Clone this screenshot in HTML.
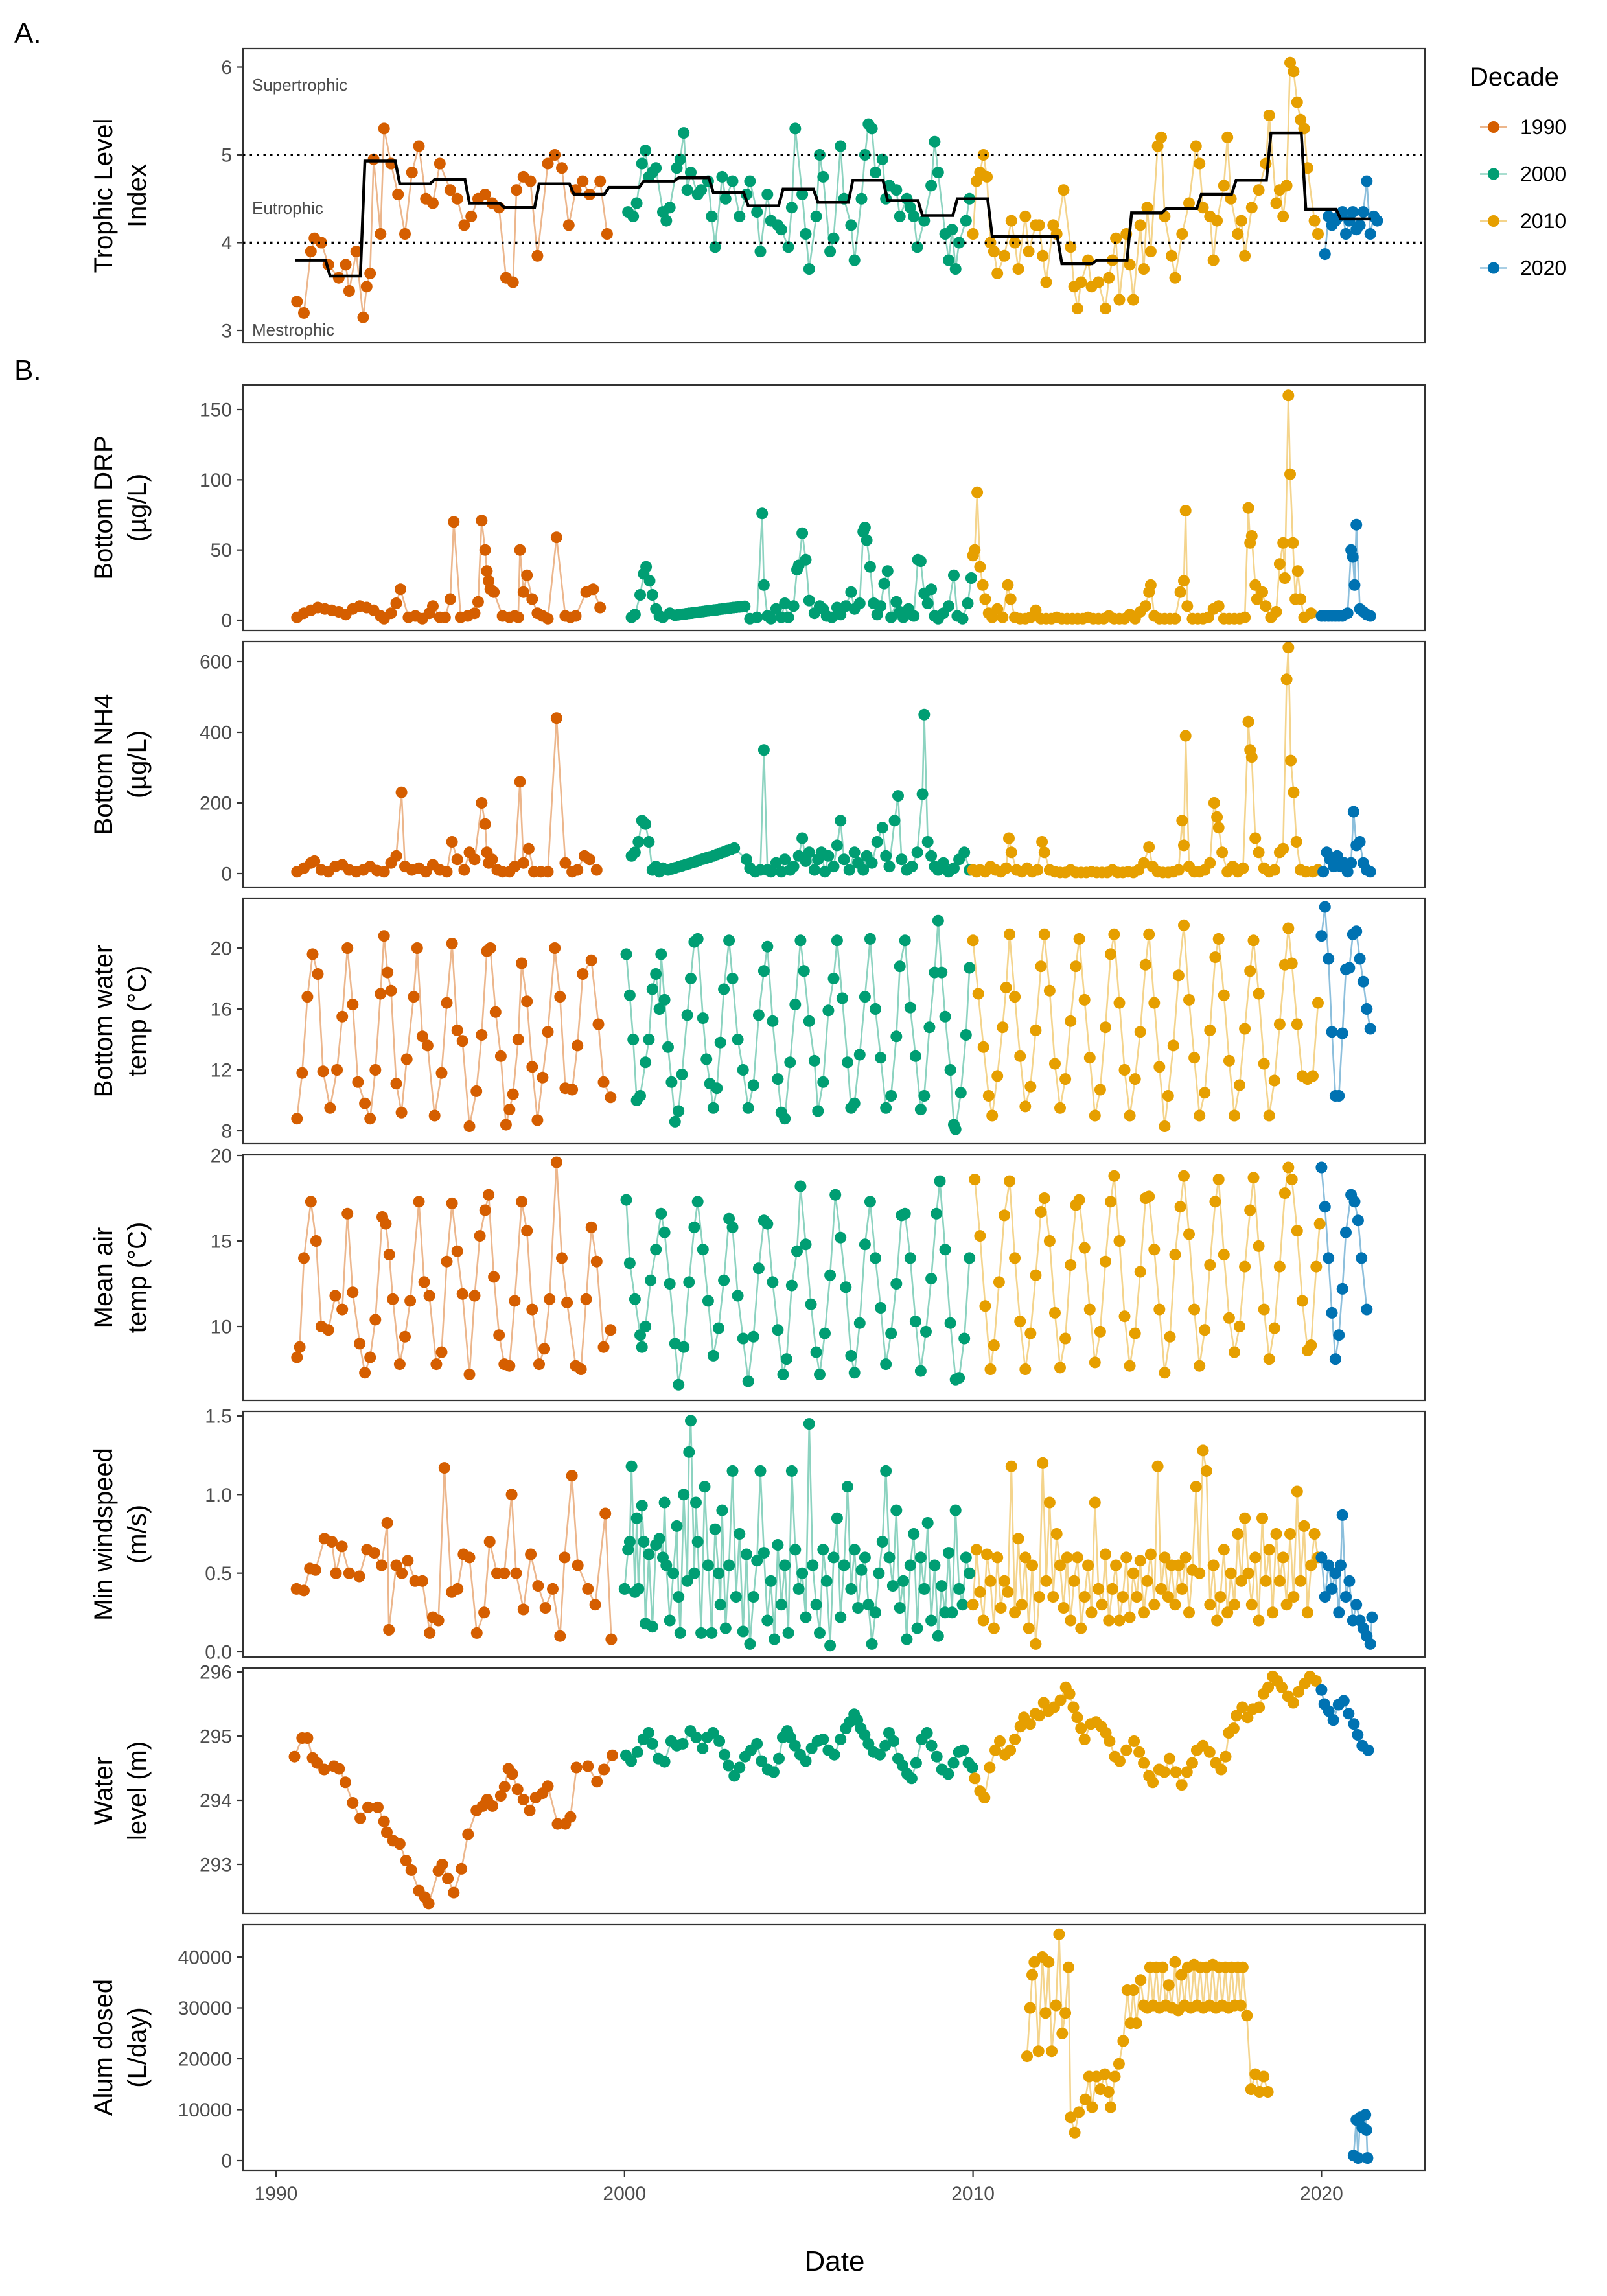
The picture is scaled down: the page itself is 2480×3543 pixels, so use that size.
<!DOCTYPE html>
<html><head><meta charset="utf-8"><style>
html,body{margin:0;padding:0;background:#fff;}
svg{display:block;font-family:"Liberation Sans",Arial,sans-serif;}
</style></head><body>
<svg id="fig" width="2480" height="3543" viewBox="0 0 2480 3543" xmlns="http://www.w3.org/2000/svg">
<rect width="2480" height="3543" fill="#fff"/>
<text x="22" y="66" font-size="44" fill="#000">A.</text>
<text x="22" y="586" font-size="44" fill="#000">B.</text>
<text x="1288" y="3504" font-size="44" text-anchor="middle" fill="#000">Date</text>
<g id="legend">
<text x="2268" y="132" font-size="40" fill="#000">Decade</text>
</g>
</svg>
<script>
const decadeLabels = ["1990","2000","2010","2020"];
const decadeColors = ["#D55E00","#009E73","#E69F00","#0072B2"];
const xTickLabels = [1990,2000,2010,2020];

const tliObs = [[1990.6,3.33],[1990.8,3.2],[1991.0,3.9],[1991.1,4.05],[1991.3,4.0],[1991.5,3.75],[1991.8,3.6],[1992.0,3.75],[1992.1,3.45],[1992.3,3.9],[1992.5,3.15],[1992.6,3.5],[1992.7,3.65],[1992.8,4.95],[1993.0,4.1],[1993.1,5.3],[1993.3,4.9],[1993.5,4.55],[1993.7,4.1],[1993.9,4.8],[1994.1,5.1],[1994.3,4.5],[1994.5,4.45],[1994.7,4.9],[1995.0,4.6],[1995.2,4.5],[1995.4,4.2],[1995.6,4.3],[1995.8,4.5],[1996.0,4.55],[1996.2,4.45],[1996.4,4.4],[1996.6,3.6],[1996.8,3.55],[1996.9,4.6],[1997.1,4.75],[1997.3,4.7],[1997.5,3.85],[1997.8,4.9],[1998.0,5.0],[1998.2,4.85],[1998.4,4.2],[1998.6,4.6],[1998.8,4.7],[1999.0,4.55],[1999.3,4.7],[1999.5,4.1],
[2000.1,4.35],[2000.25,4.3],[2000.35,4.45],[2000.5,4.9],[2000.6,5.05],[2000.7,4.75],[2000.8,4.8],[2000.9,4.85],[2001.1,4.35],[2001.2,4.25],[2001.3,4.4],[2001.5,4.85],[2001.6,4.95],[2001.7,5.25],[2001.8,4.6],[2001.9,4.8],[2002.1,4.55],[2002.2,4.6],[2002.4,4.7],[2002.5,4.3],[2002.6,3.95],[2002.8,4.75],[2002.9,4.5],[2003.1,4.7],[2003.3,4.3],[2003.5,4.55],[2003.6,4.7],[2003.8,4.35],[2003.9,3.9],[2004.1,4.55],[2004.2,4.25],[2004.4,4.2],[2004.5,4.15],[2004.7,3.95],[2004.8,4.4],[2004.9,5.3],[2005.1,4.55],[2005.2,4.1],[2005.3,3.7],[2005.5,4.3],[2005.6,5.0],[2005.7,4.75],[2005.9,3.9],[2006.0,4.05],[2006.2,5.1],[2006.3,4.5],[2006.5,4.2],[2006.6,3.8],[2006.8,4.5],[2006.9,5.0],[2007.0,5.35],[2007.1,5.3],[2007.2,4.8],[2007.4,4.95],[2007.5,4.5],[2007.6,4.65],[2007.8,4.6],[2007.9,4.3],[2008.1,4.5],[2008.2,4.4],[2008.3,4.3],[2008.4,3.95],[2008.6,4.25],[2008.8,4.65],[2008.9,5.15],[2009.0,4.8],[2009.2,4.1],[2009.3,3.8],[2009.4,4.15],[2009.5,3.7],[2009.6,4.0],[2009.8,4.25],[2009.9,4.5],
[2010.0,4.1],[2010.1,4.7],[2010.2,4.8],[2010.3,5.0],[2010.4,4.75],[2010.5,4.0],[2010.6,3.9],[2010.7,3.65],[2010.9,3.85],[2011.1,4.25],[2011.2,4.0],[2011.3,3.7],[2011.5,4.3],[2011.6,3.9],[2011.8,4.2],[2011.9,4.2],[2012.0,3.85],[2012.1,3.55],[2012.3,4.2],[2012.4,4.1],[2012.6,4.6],[2012.8,3.95],[2012.9,3.5],[2013.0,3.25],[2013.1,3.55],[2013.3,3.8],[2013.4,3.5],[2013.6,3.55],[2013.8,3.25],[2013.9,3.6],[2014.0,3.8],[2014.1,4.05],[2014.2,3.35],[2014.4,4.1],[2014.5,3.75],[2014.6,3.35],[2014.8,4.2],[2014.9,3.7],[2015.0,4.4],[2015.1,3.9],[2015.3,5.1],[2015.4,5.2],[2015.5,4.3],[2015.7,3.85],[2015.8,3.6],[2016.0,4.1],[2016.2,4.45],[2016.4,5.1],[2016.5,4.9],[2016.6,4.4],[2016.8,4.3],[2016.9,3.8],[2017.0,4.25],[2017.2,4.65],[2017.3,5.2],[2017.4,4.5],[2017.6,4.1],[2017.7,4.25],[2017.8,3.85],[2018.0,4.4],[2018.2,4.6],[2018.4,4.9],[2018.5,5.45],[2018.7,4.45],[2018.8,4.6],[2018.9,4.3],[2019.0,4.65],[2019.1,6.05],[2019.2,5.95],[2019.3,5.6],[2019.4,5.4],[2019.5,5.3],[2019.6,4.85],[2019.8,4.25],[2019.9,4.1],
[2020.1,3.87],[2020.2,4.3],[2020.3,4.2],[2020.4,4.25],[2020.5,4.3],[2020.6,4.35],[2020.7,4.1],[2020.8,4.25],[2020.9,4.35],[2021.0,4.15],[2021.1,4.2],[2021.2,4.35],[2021.3,4.7],[2021.4,4.1],[2021.5,4.3],[2021.6,4.25]];

const tliYears = [1990,1991,1992,1993,1994,1995,1996,1997,1998,1999,2000,2001,2002,2003,2004,2005,2006,2007,2008,2009,2010,2011,2012,2013,2014,2015,2016,2017,2018,2019,2020];
const tliAnnual = [3.80,3.62,4.93,4.67,4.72,4.45,4.40,4.67,4.55,4.63,4.70,4.74,4.57,4.42,4.61,4.46,4.71,4.48,4.31,4.50,4.07,4.07,3.76,3.80,4.34,4.39,4.55,4.71,5.25,4.38,4.27];

const drpObs = [[1990.6,2],[1990.8,5],[1991.0,7],[1991.2,9],[1991.4,8],[1991.6,7],[1991.8,6],[1992.0,4],[1992.2,8],[1992.4,10],[1992.6,9],[1992.8,7],[1993.0,3],[1993.1,1],[1993.3,5],[1993.45,12],[1993.57,22],[1993.8,2],[1994.0,3],[1994.2,1],[1994.4,5],[1994.5,10],[1994.7,2],[1994.85,2],[1995.0,15],[1995.1,70],[1995.3,2],[1995.5,3],[1995.7,5],[1995.8,13],[1995.9,71],[1996.0,50],[1996.05,35],[1996.1,28],[1996.15,22],[1996.25,20],[1996.5,3],[1996.7,2],[1996.85,3],[1996.95,2],[1997.0,50],[1997.1,20],[1997.2,32],[1997.35,15],[1997.5,5],[1997.65,3],[1997.8,1],[1998.05,59],[1998.3,3],[1998.45,2],[1998.6,3],[1998.9,20],[1999.1,22],[1999.3,9],
[2000.2,2],[2000.3,4],[2000.45,18],[2000.55,33],[2000.62,38],[2000.72,28],[2000.8,18],[2000.9,8],[2001.0,3],[2001.1,2],[2001.3,5],[2001.45,3.5],[2001.53,3.8],[2001.61,4.1],[2001.69,4.3],[2001.77,4.6],[2001.85,4.9],[2001.93,5.1],[2002.01,5.4],[2002.09,5.6],[2002.17,5.9],[2002.25,6.1],[2002.33,6.4],[2002.41,6.7],[2002.49,6.9],[2002.57,7.2],[2002.65,7.4],[2002.73,7.7],[2002.81,8.0],[2002.89,8.2],[2002.97,8.5],[2003.05,8.7],[2003.13,9.0],[2003.21,9.2],[2003.29,9.4],[2003.37,9.6],[2003.45,9.8],
[2003.6,1],[2003.8,2],[2003.95,76],[2004.0,25],[2004.1,3],[2004.2,1],[2004.35,8],[2004.5,2],[2004.6,12],[2004.7,2],[2004.85,10],[2004.95,36],[2005.0,39],[2005.1,62],[2005.2,43],[2005.3,14],[2005.45,5],[2005.6,10],[2005.7,8],[2005.8,3],[2005.95,2],[2006.1,9],[2006.2,4],[2006.35,10],[2006.5,20],[2006.6,8],[2006.75,12],[2006.85,63],[2006.9,66],[2006.95,57],[2007.05,38],[2007.15,12],[2007.25,4],[2007.35,10],[2007.45,26],[2007.55,35],[2007.65,2],[2007.8,13],[2007.9,6],[2008.0,2],[2008.15,8],[2008.3,3],[2008.42,43],[2008.5,42],[2008.6,19],[2008.7,12],[2008.8,22],[2008.9,3],[2009.0,1],[2009.15,5],[2009.3,10],[2009.45,32],[2009.55,3],[2009.7,1],[2009.85,12],[2009.95,30],
[2010.0,46],[2010.05,50],[2010.12,91],[2010.2,38],[2010.28,25],[2010.35,15],[2010.45,5],[2010.55,2],[2010.7,8],[2010.85,2],[2011.0,25],[2011.08,15],[2011.2,2],[2011.35,1],[2011.5,1],[2011.65,2],[2011.8,7],[2011.95,1],[2012.1,1],[2012.25,1],[2012.4,2],[2012.55,1],[2012.7,1],[2012.85,1],[2013.0,1],[2013.15,1],[2013.3,2],[2013.45,1],[2013.6,1],[2013.75,1],[2013.9,3],[2014.05,1],[2014.2,1],[2014.35,1],[2014.5,4],[2014.65,1],[2014.8,6],[2014.95,10],[2015.05,20],[2015.1,25],[2015.2,3],[2015.35,1],[2015.5,1],[2015.65,1],[2015.8,1],[2015.95,20],[2016.05,28],[2016.1,78],[2016.15,10],[2016.3,1],[2016.45,1],[2016.6,1],[2016.75,2],[2016.9,8],[2017.05,10],[2017.2,1],[2017.35,1],[2017.5,1],[2017.65,1],[2017.8,2],[2017.9,80],[2017.95,55],[2018.0,60],[2018.1,25],[2018.15,15],[2018.3,20],[2018.4,10],[2018.55,2],[2018.7,6],[2018.8,40],[2018.9,55],[2018.95,30],[2019.05,160],[2019.1,104],[2019.18,55],[2019.25,15],[2019.32,35],[2019.4,15],[2019.5,2],[2019.7,5],
[2020.0,3],[2020.1,3],[2020.2,3],[2020.3,3],[2020.4,3],[2020.5,3],[2020.6,3],[2020.75,5],[2020.85,50],[2020.9,45],[2020.95,25],[2021.0,68],[2021.1,8],[2021.2,6],[2021.3,4],[2021.4,3]];

const nh4Obs = [[1990.6,5],[1990.8,15],[1991.0,30],[1991.1,35],[1991.3,10],[1991.5,5],[1991.7,20],[1991.9,25],[1992.1,10],[1992.3,5],[1992.5,10],[1992.7,20],[1992.9,8],[1993.1,5],[1993.3,30],[1993.45,50],[1993.6,230],[1993.7,20],[1993.9,10],[1994.1,15],[1994.3,5],[1994.5,25],[1994.7,10],[1994.9,5],[1995.05,90],[1995.2,40],[1995.4,10],[1995.55,60],[1995.7,40],[1995.9,200],[1996.0,140],[1996.05,60],[1996.1,30],[1996.2,40],[1996.35,10],[1996.5,5],[1996.7,5],[1996.85,20],[1997.0,260],[1997.1,30],[1997.25,70],[1997.4,5],[1997.6,5],[1997.8,5],[1998.05,440],[1998.3,30],[1998.5,5],[1998.65,10],[1998.85,50],[1999.0,40],[1999.2,10],
[2000.2,50],[2000.3,60],[2000.4,90],[2000.5,150],[2000.6,140],[2000.7,90],[2000.8,10],[2000.9,20],[2001.0,5],[2001.1,15],[2001.25,10],[2001.35,13],[2001.45,16],[2001.55,19],[2001.65,22],[2001.75,25],[2001.85,28],[2001.95,31],[2002.05,34],[2002.15,38],[2002.25,41],[2002.35,44],[2002.45,47],[2002.55,50],[2002.65,54],[2002.75,58],[2002.85,61],[2002.95,65],[2003.05,68],[2003.15,72],
[2003.5,40],[2003.6,15],[2003.75,5],[2003.9,10],[2004.0,350],[2004.1,10],[2004.2,5],[2004.35,30],[2004.5,5],[2004.6,40],[2004.75,10],[2004.85,20],[2005.0,50],[2005.1,100],[2005.2,35],[2005.3,60],[2005.45,10],[2005.55,40],[2005.65,60],[2005.75,5],[2005.85,50],[2006.0,20],[2006.1,80],[2006.2,150],[2006.3,40],[2006.45,10],[2006.6,60],[2006.7,30],[2006.85,10],[2006.95,50],[2007.1,30],[2007.25,90],[2007.4,130],[2007.5,50],[2007.6,20],[2007.75,150],[2007.85,220],[2007.95,40],[2008.1,10],[2008.25,20],[2008.4,60],[2008.55,225],[2008.6,450],[2008.7,90],[2008.8,50],[2008.9,20],[2009.0,10],[2009.15,30],[2009.3,5],[2009.45,15],[2009.6,40],[2009.75,60],[2009.9,10],
[2010.0,10],[2010.1,5],[2010.2,10],[2010.35,5],[2010.5,20],[2010.65,10],[2010.8,5],[2010.95,15],[2011.03,100],[2011.1,60],[2011.25,10],[2011.4,5],[2011.55,15],[2011.7,5],[2011.85,10],[2011.98,90],[2012.05,60],[2012.2,10],[2012.35,5],[2012.5,3],[2012.65,3],[2012.8,10],[2012.95,3],[2013.1,3],[2013.25,3],[2013.4,5],[2013.55,3],[2013.7,3],[2013.85,3],[2014.0,10],[2014.15,3],[2014.3,3],[2014.45,5],[2014.6,3],[2014.75,10],[2014.9,30],[2015.05,75],[2015.15,20],[2015.3,5],[2015.45,3],[2015.6,3],[2015.75,5],[2015.9,10],[2016.0,150],[2016.05,80],[2016.1,390],[2016.2,20],[2016.35,5],[2016.5,5],[2016.65,10],[2016.8,30],[2016.92,200],[2017.0,160],[2017.05,130],[2017.15,60],[2017.3,5],[2017.45,20],[2017.6,5],[2017.75,15],[2017.9,430],[2017.95,350],[2018.0,330],[2018.1,100],[2018.2,60],[2018.35,15],[2018.5,5],[2018.65,10],[2018.8,60],[2018.9,70],[2019.0,550],[2019.05,640],[2019.12,320],[2019.2,230],[2019.28,90],[2019.4,10],[2019.55,5],[2019.75,5],[2019.9,10],
[2020.05,5],[2020.15,60],[2020.25,40],[2020.35,20],[2020.45,50],[2020.55,20],[2020.65,30],[2020.75,5],[2020.85,30],[2020.92,175],[2021.0,80],[2021.1,90],[2021.2,30],[2021.3,10],[2021.4,5]];

const btObs = [[1990.6,8.8],[1990.75,11.8],[1990.9,16.8],[1991.05,19.6],[1991.2,18.3],[1991.35,11.9],[1991.55,9.5],[1991.75,12],[1991.9,15.5],[1992.05,20],[1992.2,16.3],[1992.35,11.2],[1992.55,9.8],[1992.7,8.8],[1992.85,12],[1993.0,17],[1993.1,20.8],[1993.2,18.4],[1993.3,17.2],[1993.45,11.1],[1993.6,9.2],[1993.75,12.7],[1993.95,16.8],[1994.05,20],[1994.2,14.2],[1994.35,13.6],[1994.55,9],[1994.75,11.8],[1994.9,16.4],[1995.05,20.3],[1995.2,14.6],[1995.35,13.9],[1995.55,8.3],[1995.75,10.6],[1995.9,14.3],[1996.05,19.8],[1996.15,20],[1996.3,15.8],[1996.45,12.9],[1996.6,8.4],[1996.7,9.4],[1996.8,10.4],[1996.95,14],[1997.05,19],[1997.2,16.5],[1997.35,12.2],[1997.5,8.7],[1997.65,11.5],[1997.8,14.5],[1998.0,20],[1998.15,16.8],[1998.3,10.8],[1998.5,10.7],[1998.65,13.6],[1998.8,18.3],[1999.05,19.2],[1999.25,15],[1999.4,11.2],[1999.6,10.2],
[2000.05,19.6],[2000.15,16.9],[2000.25,14],[2000.35,10],[2000.45,10.3],[2000.6,12.5],[2000.7,14],[2000.8,17.3],[2000.9,18.3],[2001.0,16],[2001.05,19.6],[2001.15,16.6],[2001.25,13.5],[2001.35,11.2],[2001.45,8.6],[2001.55,9.3],[2001.65,11.7],[2001.8,15.6],[2001.9,18],[2002.0,20.4],[2002.1,20.6],[2002.25,15.4],[2002.35,12.7],[2002.45,11.1],[2002.55,9.5],[2002.65,10.8],[2002.75,13.8],[2002.85,17.3],[2003.0,20.5],[2003.1,18],[2003.25,14],[2003.4,12],[2003.55,9.5],[2003.7,11],[2003.85,15.6],[2004.0,18.5],[2004.1,20.1],[2004.25,15.2],[2004.4,11.4],[2004.5,9.2],[2004.6,8.8],[2004.75,12.5],[2004.9,16.3],[2005.05,20.5],[2005.15,18.5],[2005.3,15.2],[2005.45,12.6],[2005.55,9.3],[2005.7,11.2],[2005.85,15.9],[2006.0,18],[2006.1,20.5],[2006.25,16.7],[2006.4,12.5],[2006.5,9.5],[2006.6,9.8],[2006.75,13],[2006.9,16.8],[2007.05,20.6],[2007.2,16],[2007.35,12.8],[2007.5,9.5],[2007.65,10.3],[2007.8,14.2],[2007.9,18.8],[2008.05,20.5],[2008.2,16.1],[2008.35,12.9],[2008.5,9.4],[2008.6,10.3],[2008.75,14.8],[2008.9,18.4],[2009.0,21.8],[2009.1,18.4],[2009.2,15.5],[2009.35,12],[2009.45,8.4],[2009.5,8.1],[2009.65,10.5],[2009.8,14.3],[2009.9,18.7],
[2010.0,20.5],[2010.15,17],[2010.3,13.5],[2010.45,10.3],[2010.55,9],[2010.7,11.6],[2010.85,14.8],[2010.95,17.4],[2011.05,20.9],[2011.2,16.8],[2011.35,12.9],[2011.5,9.6],[2011.65,10.9],[2011.8,14.6],[2011.95,18.8],[2012.05,20.9],[2012.2,17.2],[2012.35,12.4],[2012.5,9.5],[2012.65,11.4],[2012.8,15.2],[2012.95,18.8],[2013.05,20.6],[2013.2,16.6],[2013.35,12.8],[2013.5,9],[2013.65,10.7],[2013.8,14.8],[2013.95,19.6],[2014.05,20.9],[2014.2,16.4],[2014.35,12],[2014.5,9],[2014.65,11.4],[2014.8,14.5],[2014.95,18.9],[2015.05,20.9],[2015.2,16.4],[2015.35,12.2],[2015.5,8.3],[2015.6,10.3],[2015.75,13.6],[2015.9,18.2],[2016.05,21.5],[2016.2,16.6],[2016.35,12.8],[2016.5,9],[2016.65,10.5],[2016.8,14.6],[2016.95,19.4],[2017.05,20.6],[2017.2,16.9],[2017.35,12.6],[2017.5,9],[2017.65,11],[2017.8,14.7],[2017.95,18.5],[2018.05,20.5],[2018.2,17],[2018.35,12.4],[2018.5,9],[2018.65,11.3],[2018.8,15],[2018.95,18.9],[2019.05,21.3],[2019.15,19],[2019.3,15],[2019.45,11.6],[2019.6,11.4],[2019.75,11.6],[2019.9,16.4],
[2020.0,20.8],[2020.1,22.7],[2020.2,19.3],[2020.3,14.5],[2020.4,10.3],[2020.5,10.3],[2020.6,14.4],[2020.7,18.6],[2020.8,18.7],[2020.9,20.9],[2021.0,21.1],[2021.1,19.3],[2021.2,17.8],[2021.3,16],[2021.4,14.7]];

const airObs = [[1990.6,8.2],[1990.68,8.8],[1990.8,14],[1991.0,17.3],[1991.15,15],[1991.3,10],[1991.5,9.8],[1991.7,11.8],[1991.9,11],[1992.05,16.6],[1992.2,12],[1992.4,9],[1992.55,7.3],[1992.7,8.2],[1992.85,10.4],[1993.05,16.4],[1993.15,16],[1993.25,14.2],[1993.35,11.6],[1993.55,7.8],[1993.7,9.4],[1993.85,11.5],[1994.1,17.3],[1994.25,12.6],[1994.4,11.8],[1994.6,7.8],[1994.75,8.5],[1994.9,13.8],[1995.05,17.2],[1995.2,14.4],[1995.35,11.9],[1995.55,7.2],[1995.7,11.8],[1995.85,15.3],[1996.0,16.8],[1996.1,17.7],[1996.25,12.9],[1996.4,9.5],[1996.55,7.8],[1996.7,7.7],[1996.85,11.5],[1997.05,17.3],[1997.2,15.6],[1997.35,11],[1997.55,7.8],[1997.7,8.7],[1997.85,11.6],[1998.05,19.6],[1998.2,14],[1998.35,11.4],[1998.6,7.7],[1998.75,7.5],[1998.9,11.6],[1999.05,15.8],[1999.2,13.8],[1999.4,8.8],[1999.6,9.8],
[2000.05,17.4],[2000.15,13.7],[2000.3,11.6],[2000.45,9.5],[2000.5,8.8],[2000.6,10],[2000.75,12.7],[2000.9,14.5],[2001.05,16.6],[2001.15,15.5],[2001.3,12.5],[2001.45,9],[2001.55,6.6],[2001.7,8.8],[2001.85,12.6],[2002.0,15.8],[2002.1,17.3],[2002.25,14.5],[2002.4,11.5],[2002.55,8.3],[2002.7,9.9],[2002.85,12.7],[2003.0,16.3],[2003.1,15.8],[2003.25,11.8],[2003.4,9.3],[2003.55,6.8],[2003.7,9.4],[2003.85,13.4],[2004.0,16.2],[2004.1,16],[2004.25,12.6],[2004.4,9.8],[2004.55,7.2],[2004.65,8.1],[2004.8,12.4],[2004.95,14.4],[2005.05,18.2],[2005.2,14.8],[2005.35,11.3],[2005.5,8.5],[2005.6,7.2],[2005.75,9.6],[2005.9,13],[2006.05,17.7],[2006.2,15.2],[2006.35,12.3],[2006.5,8.3],[2006.6,7.3],[2006.75,10.2],[2006.9,14.8],[2007.05,17.3],[2007.2,14],[2007.35,11.1],[2007.5,7.8],[2007.65,9.6],[2007.8,12.5],[2007.95,16.5],[2008.05,16.6],[2008.2,14],[2008.35,10.3],[2008.5,7.4],[2008.65,9.7],[2008.8,12.8],[2008.95,16.6],[2009.05,18.5],[2009.2,14.5],[2009.35,10.2],[2009.5,6.9],[2009.6,7],[2009.75,9.3],[2009.9,14],
[2010.05,18.6],[2010.2,15.3],[2010.35,11.2],[2010.5,7.5],[2010.6,8.9],[2010.75,12.6],[2010.9,16.5],[2011.05,18.5],[2011.2,14],[2011.35,10.3],[2011.5,7.5],[2011.65,9.6],[2011.8,13],[2011.95,16.7],[2012.05,17.5],[2012.2,15],[2012.35,10.8],[2012.5,7.6],[2012.65,9.3],[2012.8,13.6],[2012.95,17.1],[2013.05,17.4],[2013.2,14.6],[2013.35,11],[2013.5,7.9],[2013.65,9.7],[2013.8,13.8],[2013.95,17.3],[2014.05,18.8],[2014.2,15],[2014.35,10.6],[2014.5,7.7],[2014.65,9.6],[2014.8,13.2],[2014.95,17.5],[2015.05,17.6],[2015.2,14.5],[2015.35,11],[2015.5,7.3],[2015.65,9.4],[2015.8,14.2],[2015.95,17],[2016.05,18.8],[2016.2,15.4],[2016.35,11],[2016.5,7.7],[2016.65,9.8],[2016.8,13.6],[2016.95,17.3],[2017.05,18.6],[2017.2,14.2],[2017.35,10.5],[2017.5,8.5],[2017.65,10],[2017.8,13.5],[2017.95,16.8],[2018.05,18.7],[2018.2,14.7],[2018.35,11],[2018.5,8.1],[2018.65,9.9],[2018.8,13.5],[2018.95,17.8],[2019.05,19.3],[2019.15,18.6],[2019.3,15.6],[2019.45,11.5],[2019.6,8.6],[2019.7,8.9],[2019.85,13.5],[2019.95,16],
[2020.0,19.3],[2020.1,17],[2020.2,14],[2020.3,10.8],[2020.4,8.1],[2020.5,9.5],[2020.6,12.2],[2020.7,15.5],[2020.85,17.7],[2020.95,17.3],[2021.05,16.2],[2021.15,14],[2021.3,11]];

const windObs = [[1990.59,.4],[1990.80,.39],[1990.97,.53],[1991.13,.52],[1991.39,.72],[1991.60,.7],[1991.72,.5],[1991.89,.67],[1992.10,.5],[1992.39,.48],[1992.61,.65],[1992.82,.63],[1993.03,.55],[1993.19,.82],[1993.24,.14],[1993.45,.55],[1993.61,.5],[1993.78,.58],[1993.99,.45],[1994.20,.45],[1994.41,.12],[1994.50,.22],[1994.66,.2],[1994.83,1.17],[1995.04,.38],[1995.21,.4],[1995.38,.62],[1995.55,.6],[1995.76,.12],[1995.97,.25],[1996.13,.7],[1996.34,.5],[1996.55,.5],[1996.76,1.0],[1996.89,.5],[1997.10,.27],[1997.31,.62],[1997.52,.42],[1997.73,.28],[1997.94,.4],[1998.15,.1],[1998.28,.6],[1998.49,1.12],[1998.66,.55],[1998.95,.4],[1999.16,.3],[1999.45,.88],[1999.62,.08],
[2000.0,.4],[2000.1,.65],[2000.15,.7],[2000.2,1.18],[2000.3,.38],[2000.35,.85],[2000.4,.4],[2000.5,.93],[2000.55,.7],[2000.6,.18],[2000.7,.62],[2000.8,.16],[2000.9,.68],[2001.0,.72],[2001.1,.6],[2001.15,.95],[2001.2,.55],[2001.3,.2],[2001.4,.5],[2001.5,.8],[2001.55,.35],[2001.6,.12],[2001.7,1.0],[2001.8,.45],[2001.85,1.27],[2001.9,1.47],[2002.0,.5],[2002.05,.95],[2002.1,.7],[2002.2,.12],[2002.3,1.05],[2002.4,.55],[2002.5,.12],[2002.6,.78],[2002.7,.5],[2002.75,.3],[2002.8,.9],[2002.9,.15],[2003.0,.55],[2003.1,1.15],[2003.2,.35],[2003.3,.75],[2003.4,.13],[2003.5,.62],[2003.6,.05],[2003.7,.35],[2003.8,.58],[2003.9,1.15],[2004.0,.63],[2004.1,.2],[2004.2,.45],[2004.3,.08],[2004.4,.68],[2004.5,.3],[2004.6,.55],[2004.7,.12],[2004.8,1.15],[2004.9,.65],[2005.0,.4],[2005.1,.5],[2005.2,.22],[2005.3,1.45],[2005.4,.55],[2005.5,.3],[2005.6,.12],[2005.7,.65],[2005.8,.45],[2005.9,.04],[2006.0,.6],[2006.1,.85],[2006.2,.22],[2006.3,.55],[2006.4,1.05],[2006.5,.4],[2006.6,.65],[2006.7,.28],[2006.8,.52],[2006.9,.6],[2007.0,.3],[2007.1,.05],[2007.2,.25],[2007.3,.5],[2007.4,.7],[2007.5,1.15],[2007.6,.6],[2007.7,.42],[2007.8,.9],[2007.9,.28],[2008.0,.45],[2008.1,.08],[2008.2,.55],[2008.3,.75],[2008.4,.15],[2008.5,.6],[2008.6,.4],[2008.7,.82],[2008.8,.2],[2008.9,.55],[2009.0,.1],[2009.1,.42],[2009.2,.25],[2009.3,.63],[2009.4,.25],[2009.5,.9],[2009.6,.4],[2009.7,.3],[2009.8,.6],[2009.9,.5],
[2010.0,.3],[2010.1,.65],[2010.2,.38],[2010.3,.2],[2010.4,.62],[2010.5,.45],[2010.6,.15],[2010.7,.6],[2010.8,.28],[2010.9,.45],[2011.0,.38],[2011.1,1.18],[2011.2,.25],[2011.3,.72],[2011.4,.3],[2011.5,.6],[2011.6,.15],[2011.7,.55],[2011.8,.05],[2011.9,.35],[2012.0,1.2],[2012.1,.45],[2012.2,.95],[2012.3,.35],[2012.4,.75],[2012.5,.55],[2012.6,.28],[2012.7,.6],[2012.8,.2],[2012.9,.45],[2013.0,.6],[2013.1,.15],[2013.2,.35],[2013.3,.55],[2013.4,.25],[2013.5,.95],[2013.6,.4],[2013.7,.3],[2013.8,.62],[2013.9,.2],[2014.0,.4],[2014.1,.55],[2014.2,.2],[2014.3,.35],[2014.4,.6],[2014.5,.22],[2014.6,.5],[2014.7,.35],[2014.8,.58],[2014.9,.25],[2015.0,.45],[2015.1,.62],[2015.2,.3],[2015.3,1.18],[2015.4,.4],[2015.5,.6],[2015.6,.35],[2015.7,.55],[2015.8,.3],[2015.9,.55],[2016.0,.4],[2016.1,.6],[2016.2,.25],[2016.3,.52],[2016.4,1.05],[2016.5,.5],[2016.6,1.28],[2016.7,1.15],[2016.8,.3],[2016.9,.55],[2017.0,.2],[2017.1,.35],[2017.2,.65],[2017.3,.25],[2017.4,.5],[2017.5,.3],[2017.6,.75],[2017.7,.45],[2017.8,.85],[2017.9,.5],[2018.0,.3],[2018.1,.6],[2018.2,.2],[2018.3,.85],[2018.4,.45],[2018.5,.65],[2018.6,.25],[2018.7,.75],[2018.8,.45],[2018.9,.6],[2019.0,.3],[2019.1,.75],[2019.2,.35],[2019.3,1.02],[2019.4,.45],[2019.5,.8],[2019.6,.25],[2019.7,.55],[2019.8,.75],[2019.9,.6],
[2020.0,.6],[2020.1,.35],[2020.2,.55],[2020.3,.4],[2020.4,.5],[2020.5,.25],[2020.55,.55],[2020.6,.87],[2020.7,.35],[2020.8,.45],[2020.9,.2],[2021.0,.3],[2021.1,.2],[2021.2,.15],[2021.3,.1],[2021.4,.05],[2021.45,.22]];

const levelObs = [[1990.53,294.68],[1990.75,294.97],[1990.9,294.97],[1991.05,294.66],[1991.18,294.58],[1991.38,294.48],[1991.66,294.53],[1991.81,294.49],[1991.99,294.28],[1992.2,293.96],[1992.42,293.72],[1992.64,293.89],[1992.92,293.89],[1993.1,293.67],[1993.18,293.5],[1993.36,293.37],[1993.55,293.32],[1993.73,293.06],[1993.88,292.91],[1994.1,292.59],[1994.27,292.49],[1994.38,292.39],[1994.66,292.9],[1994.77,293.0],[1994.93,292.78],[1995.1,292.56],[1995.32,292.93],[1995.51,293.47],[1995.75,293.84],[1995.93,293.91],[1996.06,294.01],[1996.21,293.91],[1996.45,294.07],[1996.56,294.21],[1996.67,294.49],[1996.78,294.41],[1996.93,294.17],[1997.1,294.01],[1997.28,293.84],[1997.45,294.04],[1997.65,294.11],[1997.8,294.22],[1998.08,293.63],[1998.3,293.63],[1998.45,293.74],[1998.62,294.51],[1998.95,294.53],[1999.21,294.29],[1999.41,294.48],[1999.65,294.70],
[2000.04,294.70],[2000.19,294.61],[2000.37,294.75],[2000.54,294.95],[2000.69,295.05],[2000.8,294.88],[2000.97,294.65],[2001.15,294.6],[2001.34,294.92],[2001.5,294.85],[2001.67,294.88],[2001.89,295.08],[2002.06,294.98],[2002.24,294.81],[2002.37,294.98],[2002.54,295.05],[2002.72,294.92],[2002.87,294.71],[2002.98,294.54],[2003.15,294.38],[2003.3,294.51],[2003.46,294.68],[2003.63,294.78],[2003.8,294.88],[2003.93,294.61],[2004.11,294.48],[2004.28,294.44],[2004.43,294.65],[2004.54,294.98],[2004.67,295.08],[2004.76,294.98],[2004.89,294.85],[2005.04,294.71],[2005.2,294.61],[2005.37,294.81],[2005.54,294.92],[2005.7,294.95],[2005.85,294.78],[2006.02,294.71],[2006.2,294.95],[2006.35,295.12],[2006.46,295.22],[2006.59,295.34],[2006.68,295.25],[2006.78,295.12],[2006.89,295.02],[2007.0,294.88],[2007.15,294.75],[2007.33,294.71],[2007.48,294.85],[2007.59,295.05],[2007.72,294.92],[2007.85,294.65],[2007.98,294.54],[2008.11,294.41],[2008.24,294.34],[2008.37,294.58],[2008.53,294.95],[2008.68,295.05],[2008.81,294.85],[2008.96,294.68],[2009.11,294.48],[2009.29,294.41],[2009.44,294.58],[2009.59,294.75],[2009.72,294.78],[2009.87,294.58],[2009.98,294.51],
[2010.05,294.34],[2010.2,294.14],[2010.33,294.04],[2010.48,294.51],[2010.64,294.78],[2010.77,294.92],[2010.92,294.71],[2011.07,294.78],[2011.2,294.95],[2011.36,295.15],[2011.46,295.29],[2011.64,295.19],[2011.79,295.35],[2011.9,295.32],[2012.03,295.52],[2012.16,295.39],[2012.33,295.45],[2012.51,295.56],[2012.66,295.76],[2012.77,295.66],[2012.88,295.45],[2012.99,295.29],[2013.1,295.12],[2013.2,294.95],[2013.38,295.19],[2013.53,295.22],[2013.68,295.15],[2013.81,295.05],[2013.92,294.92],[2014.07,294.68],[2014.21,294.61],[2014.4,294.78],[2014.62,294.92],[2014.77,294.75],[2014.9,294.58],[2015.05,294.38],[2015.16,294.28],[2015.34,294.48],[2015.49,294.44],[2015.64,294.65],[2015.82,294.44],[2015.99,294.24],[2016.14,294.44],[2016.29,294.58],[2016.42,294.78],[2016.6,294.85],[2016.79,294.75],[2016.97,294.58],[2017.12,294.48],[2017.25,294.68],[2017.34,295.05],[2017.48,295.12],[2017.56,295.32],[2017.73,295.45],[2017.88,295.29],[2018.03,295.42],[2018.21,295.45],[2018.34,295.66],[2018.47,295.76],[2018.6,295.93],[2018.73,295.86],[2018.86,295.76],[2019.04,295.62],[2019.19,295.52],[2019.34,295.69],[2019.52,295.82],[2019.67,295.93],[2019.84,295.86],
[2020.0,295.72],[2020.08,295.5],[2020.21,295.39],[2020.34,295.25],[2020.49,295.49],[2020.64,295.55],[2020.78,295.35],[2020.93,295.19],[2021.04,295.02],[2021.17,294.85],[2021.34,294.78]];

const alumObs = [[2011.55,20500],[2011.64,30000],[2011.7,36500],[2011.76,39000],[2011.88,21500],[2011.99,40000],[2012.08,29000],[2012.17,39000],[2012.26,21500],[2012.38,30500],[2012.47,44500],[2012.56,25000],[2012.65,29000],[2012.74,38000],[2012.8,8500],[2012.92,5500],[2013.04,9500],[2013.22,12000],[2013.33,16500],[2013.42,10500],[2013.54,16500],[2013.66,14000],[2013.78,17000],[2013.89,13500],[2013.95,10500],[2014.07,16500],[2014.19,19000],[2014.31,23500],[2014.43,33500],[2014.52,27000],[2014.6,33500],[2014.69,27000],[2014.81,35500],[2014.9,30500],[2015.0,30000],[2015.08,38000],[2015.17,30500],[2015.26,38000],[2015.35,30000],[2015.44,38000],[2015.53,30500],[2015.62,34500],[2015.71,30000],[2015.8,39000],[2015.89,29500],[2015.98,36500],[2016.07,30500],[2016.16,38000],[2016.25,30000],[2016.34,38500],[2016.43,30500],[2016.52,38000],[2016.61,30000],[2016.7,38000],[2016.79,30500],[2016.88,38500],[2016.97,30000],[2017.06,38000],[2017.15,30500],[2017.24,38000],[2017.33,30000],[2017.42,38000],[2017.51,30500],[2017.6,38000],[2017.68,30500],[2017.74,38000],[2017.86,28500],[2017.98,14000],[2018.1,17000],[2018.22,13500],[2018.34,16500],[2018.46,13500],
[2020.92,1000],[2021.0,8000],[2021.05,500],[2021.11,8500],[2021.17,6500],[2021.26,9000],[2021.29,6000],[2021.32,500]];

const tliTicks=[3,4,5,6], drpTicks=[0,50,100,150], nh4Ticks=[0,200,400,600], btTicks=[8,12,16,20], airTicks=[10,15,20], windTicks=[0,0.5,1,1.5], levelTicks=[293,294,295,296], alumTicks=[0,10000,20000,30000,40000];

const NS="http://www.w3.org/2000/svg";
const svg=document.getElementById('fig');
const PL=375, PR=2199;
function xs(d){return 426+(d-1990)*53.78;}
function mk(tag,attrs,parent){const e=document.createElementNS(NS,tag);for(const k in attrs)e.setAttribute(k,attrs[k]);(parent||svg).appendChild(e);return e;}
function decadeOf(d){return d<2000?0:d<2010?1:d<2020?2:3;}

function panel(name,top,bottom,v0,y0,v1,y1,ticks,fmt,title1,title2,obs){
  const g=mk('g',{});
  
  
  const ys=v=>y0+(v-v0)*(y1-y0)/(v1-v0);
  ticks.forEach(t=>{
    const y=ys(t);
    const tk=mk('line',{x1:365,x2:375,y1:y,y2:y,stroke:'#333','stroke-width':2.2},g);
    
    
    const tl=mk('text',{x:358,y:y+10.5,'font-size':30,'text-anchor':'end',fill:'#4D4D4D'},g);
    
    
    tl.textContent=fmt(t);
  });
  const cy=(top+bottom)/2;
  [[title1,173],[title2,225]].forEach(([t,x])=>{
    const tt=mk('text',{x:x,y:cy,'font-size':40,'text-anchor':'middle',fill:'#000',transform:`rotate(-90 ${x} ${cy})`},g);
    
    
    tt.textContent=t;
  });
  const clip=mk('clipPath',{id:'c'+name},g);
  mk('rect',{x:PL,y:top,width:PR-PL,height:bottom-top},clip);
  const dg=mk('g',{'clip-path':`url(#c${name})`},g);
  
  
  const segs=[];
  obs.forEach(p=>{const k=decadeOf(p[0]);if(!segs.length||segs[segs.length-1].k!==k)segs.push({k,pts:[]});segs[segs.length-1].pts.push(p);});
  segs.forEach(s=>{
    const pl=mk('polyline',{points:s.pts.map(p=>xs(p[0]).toFixed(1)+','+ys(p[1]).toFixed(1)).join(' '),fill:'none',stroke:decadeColors[s.k],'stroke-opacity':0.45,'stroke-width':2.6},dg);
    
    
  });
  obs.forEach(p=>{
    const c=mk('circle',{cx:xs(p[0]).toFixed(1),cy:ys(p[1]).toFixed(1),r:9,fill:decadeColors[decadeOf(p[0])]},dg);
    
    
  });
  const b=mk('rect',{x:PL,y:top,width:PR-PL,height:bottom-top,fill:'none',stroke:'#333','stroke-width':2.2},g);
  
  
  return {g,ys,dg};
}

const A=panel('tli',75,529,5,239,6,103.5,tliTicks,t=>String(t),'Trophic Level','Index',tliObs);
[5,4].forEach(v=>{
  const l=mk('line',{x1:PL,x2:PR,y1:A.ys(v),y2:A.ys(v),stroke:'#000','stroke-width':3.5,'stroke-dasharray':'3.5 7'},A.g);
  
  
});
{
  const pts=[];
  tliYears.forEach((y,i)=>{pts.push([y+0.55,tliAnnual[i]]);pts.push([y+1.42,tliAnnual[i]]);});
  const sl=mk('polyline',{points:pts.map(p=>xs(p[0]).toFixed(1)+','+A.ys(p[1]).toFixed(1)).join(' '),fill:'none',stroke:'#000','stroke-width':4.5},A.g);
  
  
}
[['Supertrophic',140,'supertrophic-label'],['Eutrophic',330,'eutrophic-label'],['Mestrophic',518,'mestrophic-label']].forEach(([t,y,n])=>{
  const e=mk('text',{x:389,y:y,'font-size':26,fill:'#4D4D4D'},A.g);
  
  
  e.textContent=t;
});

panel('drp',594,973,0,957,150,632,drpTicks,t=>String(t),'Bottom DRP','(µg/L)',drpObs);
panel('nh4',990,1369,0,1348,600,1021,nh4Ticks,t=>String(t),'Bottom NH4','(µg/L)',nh4Obs);
panel('bottom-temp',1386,1765,8,1745,20,1463,btTicks,t=>String(t),'Bottom water','temp (°C)',btObs);
panel('air-temp',1782,2161,10,2047,20,1783,airTicks,t=>String(t),'Mean air','temp (°C)',airObs);
panel('wind',2178,2557,0,2549,1.5,2185,windTicks,t=>t.toFixed(1),'Min windspeed','(m/s)',windObs);
panel('water-level',2574,2953,293,2877,296,2580,levelTicks,t=>String(t),'Water','level (m)',levelObs);
panel('alum',2970,3349,0,3334,40000,3020,alumTicks,t=>String(t),'Alum dosed','(L/day)',alumObs);

xTickLabels.forEach(t=>{
  const x=xs(t);
  const tk=mk('line',{x1:x,x2:x,y1:3349,y2:3359,stroke:'#333','stroke-width':2.2});
  
  
  const tl=mk('text',{x:x,y:3395,'font-size':30,'text-anchor':'middle',fill:'#4D4D4D'});
  
  
  tl.textContent=String(t);
});

const lg=document.getElementById('legend');
decadeLabels.forEach((d,i)=>{
  const y=196+i*72.5;
  const e=mk('g',{},lg);
  
  
  mk('line',{x1:2284,x2:2326,y1:y,y2:y,stroke:decadeColors[i],'stroke-opacity':0.45,'stroke-width':2.6},e);
  mk('circle',{cx:2305,cy:y,r:9,fill:decadeColors[i]},e);
  const t=mk('text',{x:2346,y:y+11,'font-size':32,fill:'#000'},e);
  t.textContent=d;
});
</script>
</body></html>
